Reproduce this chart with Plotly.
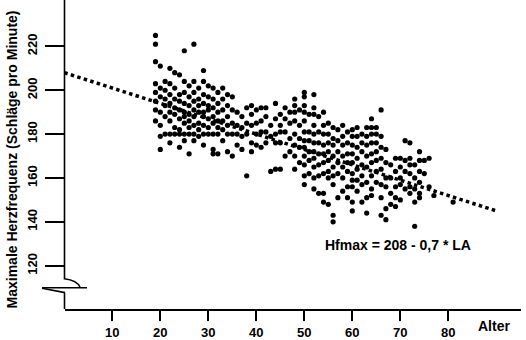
import plotly.graph_objects as go

# ---- data ----
age_levels = [19, 20, 21, 22, 23, 24, 25, 26, 27, 28, 29, 30, 31, 32, 33, 34, 35, 36,
              37, 38, 39, 40, 41, 42, 43, 44, 45, 46, 47, 48, 49, 50, 51, 52, 53, 54,
              55, 56, 57, 58, 59, 60, 61, 62, 63, 64, 65, 66, 67, 68, 69, 70, 71, 72,
              73, 74, 75, 76, 77, 81]
hf_at_age = [
    [225, 221, 213, 203, 199, 195, 191, 186],
    [211, 201, 197, 190, 184, 179, 173],
    [204, 200, 196, 193, 188, 180],
    [210, 203, 198, 194, 190, 186, 180, 176],
    [208, 201, 196, 192, 189, 183, 180],
    [207, 198, 195, 191, 187, 182, 180, 174],
    [218, 204, 199, 194, 190, 188, 185, 180, 177],
    [202, 197, 193, 189, 186, 183, 180, 171],
    [221, 204, 199, 195, 191, 188, 184, 180, 177],
    [201, 196, 193, 190, 185, 182, 179],
    [209, 204, 198, 194, 190, 188, 184, 180, 175],
    [202, 197, 193, 191, 187, 183, 180],
    [201, 196, 192, 188, 185, 180, 173, 171],
    [199, 194, 190, 186, 183, 180, 171],
    [201, 196, 191, 186, 182, 177],
    [198, 193, 188, 184, 180, 172],
    [197, 191, 185, 180, 170],
    [190, 184, 180, 175],
    [188, 183, 179, 173],
    [192, 185, 180, 161],
    [193, 189, 184, 176, 172],
    [191, 185, 180, 175],
    [192, 186, 181, 174],
    [192, 188, 181, 176],
    [184, 179, 163],
    [194, 187, 180, 176, 164],
    [189, 184, 181, 176, 164],
    [192, 187, 181, 170],
    [190, 185, 178, 172],
    [196, 193, 190, 186, 180, 175, 170, 164],
    [191, 184, 178, 174, 167],
    [199, 197, 193, 190, 186, 181, 177, 174, 170, 166, 161, 157],
    [189, 181, 177, 172, 168, 162],
    [198, 192, 189, 184, 180, 176, 172, 169, 165, 160, 155],
    [188, 181, 176, 171, 166, 161, 153],
    [190, 184, 180, 175, 171, 167, 162, 153, 149],
    [185, 180, 176, 172, 168, 163, 160, 148],
    [183, 178, 175, 170, 165, 161, 157, 143, 140],
    [182, 177, 172, 167, 162, 151],
    [184, 179, 175, 170, 165, 160, 154],
    [181, 176, 171, 167, 163, 156, 151],
    [182, 179, 175, 171, 167, 162, 159, 156, 149, 145],
    [183, 179, 174, 169, 164, 159, 154],
    [180, 176, 172, 166, 161, 157, 149],
    [183, 179, 175, 170, 165, 158, 151, 144],
    [187, 183, 180, 176, 171, 167, 161, 155, 152],
    [183, 180, 176, 172, 168, 163, 158],
    [191, 179, 174, 169, 164, 157, 151, 143],
    [173, 167, 160, 156, 146, 141],
    [166, 160, 153, 148],
    [169, 163, 156, 151, 147],
    [169, 165, 160, 157, 150],
    [177, 168, 163, 155],
    [176, 169, 166, 162, 156, 153],
    [166, 160, 155, 149, 138],
    [172, 168, 163, 158, 153, 151],
    [168, 162],
    [169, 156],
    [152],
    [149],
]
reg_intercept = 208
reg_slope = -0.7
reg_ages = [0, 90]
x_ticks = [10, 20, 30, 40, 50, 60, 70, 80]
y_ticks = [120, 140, 160, 180, 200, 220]
y_title = "Maximale Herzfrequenz (Schläge pro Minute)"
x_title = "Alter"
formula_text = "Hfmax = 208 - 0,7 * LA"

age = []
hfmax = []
for a, vals in zip(age_levels, hf_at_age):
    for v in vals:
        age.append(a)
        hfmax.append(v)
reg_hf = [reg_intercept + reg_slope * a for a in reg_ages]

# ---- layout geometry ----
W, H = 526, 340
ML, MR, MT, MB = 65, 5, 0, 28
PW, PH = W - ML - MR, H - MT - MB

def px(x):
    return (x - ML) / PW

def py(y):
    return (H - MB - y) / PH

FONT = "Liberation Sans, Arial, sans-serif"

fig = go.Figure()
fig.add_trace(go.Scatter(x=reg_ages, y=reg_hf, mode="lines",
                         line=dict(color="black", width=3.5, dash="3.5px,3.3px"),
                         hoverinfo="skip", showlegend=False))
fig.add_trace(go.Scatter(x=age, y=hfmax, mode="markers",
                         marker=dict(color="black", size=5.2, line=dict(width=0)),
                         showlegend=False))

lw = 1.6
shapes = [
    dict(type="path", xref="paper", yref="paper",
         path=f"M {px(64.5)},{py(0)} L {px(64.5)},{py(281.5)} Q {px(77)},{py(283)} {px(80)},{py(290)}",
         line=dict(color="black", width=lw)),
    dict(type="line", xref="paper", yref="paper", x0=px(42), y0=py(290.5), x1=px(87), y1=py(290.5),
         line=dict(color="black", width=lw)),
    dict(type="line", xref="paper", yref="paper", x0=px(42), y0=py(291), x1=px(65), y1=py(295.5),
         line=dict(color="black", width=lw)),
    dict(type="line", xref="paper", yref="paper", x0=px(64.5), y0=py(295.5), x1=px(64.5), y1=py(312),
         line=dict(color="black", width=lw)),
]

annotations = [
    dict(text=f"<b>{y_title}</b>", xref="paper", yref="paper", x=px(12), y=py(161),
         textangle=-90, showarrow=False, xanchor="center", yanchor="middle",
         font=dict(family=FONT, size=14, color="black")),
    dict(text=f"<b>{x_title}</b>", xref="paper", yref="paper", x=px(494), y=py(329),
         showarrow=False, xanchor="center", yanchor="middle",
         font=dict(family=FONT, size=14, color="black")),
    dict(text=f"<b>{formula_text}</b>", xref="paper", yref="paper", x=px(398), y=py(247),
         showarrow=False, xanchor="center", yanchor="middle",
         font=dict(family=FONT, size=14, color="black")),
]

fig.update_layout(
    width=W, height=H,
    margin=dict(l=ML, r=MR, t=MT, b=MB, pad=0),
    paper_bgcolor="white", plot_bgcolor="white",
    shapes=shapes, annotations=annotations,
    xaxis=dict(range=[(65 - 64.3) / 4.8, (521 - 64.3) / 4.8], tickvals=x_ticks,
               showgrid=False, zeroline=False, showline=True, linecolor="black", linewidth=2,
               ticks="outside", ticklen=10, tickwidth=2, tickcolor="black",
               tickfont=dict(family=FONT, size=13, color="black", weight="bold")),
    yaxis=dict(range=[100.27, 241.13], tickvals=y_ticks, tickangle=-90,
               showgrid=False, zeroline=False, showline=False,
               ticks="outside", ticklen=19, tickwidth=2, tickcolor="black",
               ticklabelstandoff=3,
               tickfont=dict(family=FONT, size=13, color="black", weight="bold")),
)
fig.write_html("out.html")
